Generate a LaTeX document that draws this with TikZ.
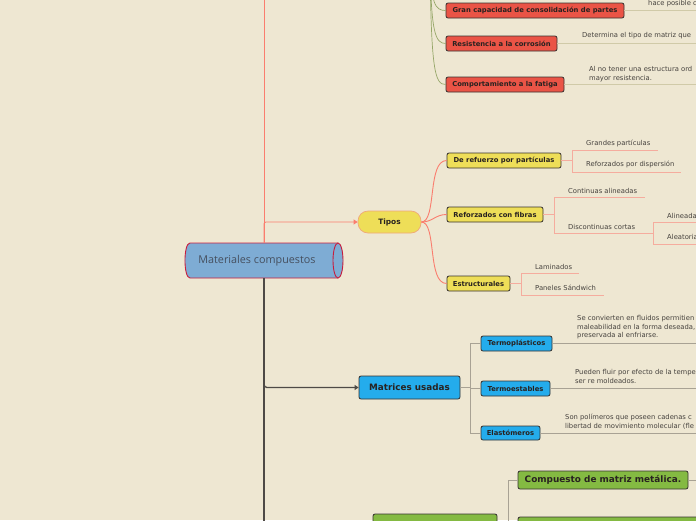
\documentclass[tikz,border=0pt]{standalone}
\usepackage{fontspec}
\setmainfont{DejaVu Sans}
\newfontfamily\titlefont{Open Sans}
\usetikzlibrary{arrows.meta}
\definecolor{bg}{RGB}{238,231,210}
\definecolor{redline}{RGB}{250,125,110}
\definecolor{leafred}{RGB}{245,172,158}
\definecolor{yellowfill}{RGB}{238,222,88}
\definecolor{redfill}{RGB}{234,84,70}
\definecolor{bluefill}{RGB}{36,172,236}
\definecolor{greenfill}{RGB}{132,186,66}
\definecolor{cylfill}{RGB}{126,172,212}
\definecolor{cylborder}{RGB}{200,28,60}
\definecolor{darkline}{RGB}{78,74,70}
\definecolor{oliveline}{RGB}{150,166,104}
\definecolor{thinolive}{RGB}{208,202,168}
\definecolor{grayline}{RGB}{168,162,148}
\definecolor{boxedge}{RGB}{55,50,48}
\definecolor{txt}{RGB}{40,34,32}
\definecolor{leaftxt}{RGB}{70,66,62}
\definecolor{tiposedge}{RGB}{240,168,120}
\definecolor{titletxt}{RGB}{70,80,95}
\tikzset{
  x=1pt, y=-1pt,
  box/.style={rectangle, rounded corners=2pt, draw=boxedge, line width=0.8pt,
    inner sep=0pt, font=\fontsize{6.8}{8}\selectfont\bfseries, text=txt},
  redbox/.style={box, fill=redfill},
  yelbox/.style={box, fill=yellowfill},
  bluebox/.style={box, fill=bluefill},
  greenbox/.style={box, fill=greenfill, font=\fontsize{8.9}{10}\selectfont\bfseries},
  leaf/.style={anchor=west, inner sep=0pt, font=\fontsize{6.8}{8.6}\selectfont, text=leaftxt, align=left},
  redconn/.style={draw=redline, line width=0.9pt},
  leafconn/.style={draw=leafred, line width=0.8pt},
  oliveconn/.style={draw=oliveline, line width=0.7pt},
  thinconn/.style={draw=thinolive, line width=0.8pt},
  grayconn/.style={draw=grayline, line width=0.9pt},
  darkconn/.style={draw=darkline, line width=1.3pt},
  tip/.style={-{Triangle[length=4pt,width=5pt]}},
}
\begin{document}
\begin{tikzpicture}
\fill[bg] (0,0) rectangle (696,520);
\useasboundingbox (0,0) rectangle (696,520);
\clip (0,0) rectangle (696,520);

% main cylinder
\node[minimum width=158pt, minimum height=35pt, inner sep=0pt] (main) at (264,260.5) {};
\fill[cylfill] (190,243) -- (338,243) .. controls (344.7,243) and (344.7,278) .. (338,278)
  -- (190,278) .. controls (183.3,278) and (183.3,243) .. (190,243) -- cycle;
\draw[cylborder, line width=0.9pt] (338,243) -- (190,243) .. controls (183.3,243) and (183.3,278) .. (190,278) -- (338,278);
\draw[cylborder, line width=0.9pt, fill=cylfill] (338,260.5) ellipse [x radius=5, y radius=17.5];
\node[font=\titlefont\fontsize{10.8}{12}\selectfont, text=titletxt, inner sep=0pt] (mainlabel) at (257,260.5) {Materiales compuestos};

% first-level nodes
\node[yelbox, rounded corners=10pt, draw=tiposedge, line width=0.7pt,
  minimum width=63pt, minimum height=22pt, font=\fontsize{7.4}{8}\selectfont\bfseries] (tipos) at (389.5,222) {Tipos};
\node[bluebox, minimum width=101pt, minimum height=23pt, font=\fontsize{8.8}{10}\selectfont\bfseries] (matrices) at (409.5,387.5) {Matrices usadas};
\node[greenbox, minimum width=124pt, minimum height=31pt] (greenA) at (435,529.5) {};

% trunk connectors
\draw[redconn] (main.north) -- (264,-5);
\draw[redconn, tip, rounded corners=2pt] (main.north) |- (tipos.west);
\draw[darkconn] (main.south) -- (264,530);
\draw[darkconn, tip, rounded corners=3pt] (main.south) |- (matrices.west);
\draw[darkconn, tip, rounded corners=3pt] (main.south) |- (greenA.west);

% properties (parent above the picture)
\coordinate (propsrc) at (430,-40);
\node[redbox, minimum width=178pt, minimum height=15pt] (gran) at (535,10.5) {Gran capacidad de consolidación de partes};
\node[redbox, minimum width=111pt, minimum height=15pt] (resis) at (501.5,43.5) {Resistencia a la corrosión};
\node[redbox, minimum width=118pt, minimum height=15pt] (fatiga) at (505,84.5) {Comportamiento a la fatiga};
\draw[oliveconn] (propsrc) .. controls (431,4) and (435,10.5) .. (gran.west);
\draw[oliveconn] (propsrc) .. controls (431,32) and (435,43.5) .. (resis.west);
\draw[oliveconn] (propsrc) .. controls (431,72) and (435,84.5) .. (fatiga.west);
\draw[thinconn] (gran.east) -- (700,10.5);
\draw[thinconn] (resis.east) -- (700,43.5);
\draw[thinconn] (fatiga.east) -- (700,84.5);
\node[leaf] (grantxt) at (648,3.5) {hace posible c};
\node[leaf] (resistxt) at (582,36) {Determina el tipo de matriz que};
\node[leaf] (fatigatxt) at (589,74.3) {Al no tener una estructura ord\\mayor resistencia.};

% Tipos children
\node[yelbox, minimum width=114pt, minimum height=15pt] (refpart) at (504,160.5) {De refuerzo por partículas};
\node[yelbox, minimum width=96pt, minimum height=15pt] (fibras) at (495,214.5) {Reforzados con fibras};
\node[yelbox, minimum width=63pt, minimum height=15pt] (estruct) at (478.5,283.5) {Estructurales};
\draw[redconn] (tipos.east) .. controls (437,222) and (427,160.5) .. (refpart.west);
\draw[redconn] (tipos.east) .. controls (433,222) and (435,214.5) .. (fibras.west);
\draw[redconn] (tipos.east) .. controls (437,222) and (427,283.5) .. (estruct.west);

% De refuerzo por particulas leaves
\node[leaf] (grandes) at (586,143) {Grandes partículas};
\node[leaf] (dispersion) at (586,164.5) {Reforzados por dispersión};
\draw[leafconn] (refpart.east) -- (572,160.5);
\draw[leafconn] (572,150) -- (572,172);
\draw[leafconn] (572,150) -- (658,150);
\draw[leafconn] (572,172) -- (681,172);

% Reforzados con fibras leaves
\node[leaf] (continuas) at (568,190.5) {Continuas alineadas};
\node[leaf] (discont) at (568,226.5) {Discontinuas cortas};
\node[leaf] (alineadas) at (667,215.5) {Alineadas};
\node[leaf] (aleatorias) at (667,237) {Aleatorias};
\draw[leafconn] (fibras.east) -- (554,214.5);
\draw[leafconn] (554,197) -- (554,233);
\draw[leafconn] (554,197) -- (645,197);
\draw[leafconn] (554,233) -- (653,233);
\draw[leafconn] (653,222) -- (653,244);
\draw[leafconn] (653,222) -- (700,222);
\draw[leafconn] (653,244) -- (700,244);

% Estructurales leaves
\node[leaf] (laminados) at (535,266.5) {Laminados};
\node[leaf] (paneles) at (535,287.5) {Paneles Sándwich};
\draw[leafconn] (estruct.east) -- (521,283.5);
\draw[leafconn] (521,273) -- (521,295);
\draw[leafconn] (521,273) -- (579,273);
\draw[leafconn] (521,295) -- (604,295);

% Matrices children
\node[bluebox, minimum width=71pt, minimum height=15pt] (termopl) at (516.5,343.5) {Termoplásticos};
\node[bluebox, minimum width=69pt, minimum height=15pt] (termoest) at (515.5,388.5) {Termoestables};
\node[bluebox, minimum width=59pt, minimum height=14pt] (elast) at (510.5,433) {Elastómeros};
\draw[grayconn] (matrices.east) -- (470,387.5);
\draw[grayconn] (470,343.5) -- (470,433);
\draw[grayconn] (470,343.5) -- (termopl.west);
\draw[grayconn] (470,388.5) -- (termoest.west);
\draw[grayconn] (470,433) -- (elast.west);
\draw[grayconn] (termopl.east) -- (700,343.5);
\draw[grayconn] (termoest.east) -- (700,388.5);
\draw[grayconn] (elast.east) -- (700,433);
\node[leaf] (termopltxt) at (577,327.5) {Se convierten en fluidos permitien\\maleabilidad en la forma deseada,\\preservada al enfriarse.};
\node[leaf] (termoesttxt) at (575,376.5) {Pueden fluir por efecto de la tempe\\ser re moldeados.};
\node[leaf] (elasttxt) at (565,422) {Son polímeros que poseen cadenas c\\libertad de movimiento molecular (fle};

% green branch
\node[greenbox, minimum width=170pt, minimum height=18pt] (compuesto) at (603,480) {Compuesto de matriz metálica.};
\node[greenbox, minimum width=202pt, minimum height=28pt] (green2) at (619,531) {};
\draw[grayconn] (greenA.east) -- (508,529.5) |- (compuesto.west);
\draw[grayconn] (508,529.5) |- (green2.west);
\draw[grayconn] (compuesto.east) -- (700,480);
\end{tikzpicture}
\end{document}
